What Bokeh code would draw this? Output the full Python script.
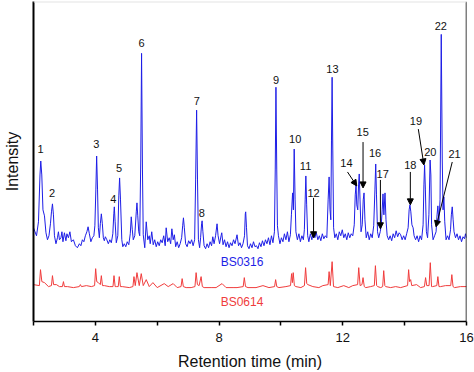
from bokeh.plotting import figure
from bokeh.models import Range1d, FixedTicker, Span, Arrow, NormalHead, ColumnDataSource
from bokeh.embed import file_html
from bokeh.resources import INLINE
from bokeh.core.properties import value

# ---- data -------------------------------------------------------------
blue_time = [
    2.000, 2.048, 2.097, 2.161, 2.210, 2.235, 2.268, 2.306, 2.355, 2.403, 2.452, 2.500,
    2.548, 2.581, 2.613, 2.645, 2.677, 2.726, 2.774, 2.806, 2.839, 2.887, 2.919, 2.952,
    3.000, 3.048, 3.081, 3.129, 3.177, 3.226, 3.290, 3.355, 3.419, 3.484, 3.532, 3.581,
    3.629, 3.677, 3.726, 3.765, 3.806, 3.855, 3.903, 3.952, 3.984, 4.016, 4.042, 4.071,
    4.097, 4.129, 4.161, 4.194, 4.226, 4.258, 4.290, 4.323, 4.371, 4.419, 4.468, 4.516,
    4.565, 4.597, 4.613, 4.639, 4.677, 4.726, 4.758, 4.784, 4.813, 4.855, 4.887, 4.935,
    4.984, 5.032, 5.081, 5.129, 5.161, 5.194, 5.226, 5.274, 5.323, 5.345, 5.371, 5.403,
    5.435, 5.468, 5.494, 5.523, 5.548, 5.597, 5.645, 5.694, 5.742, 5.774, 5.823, 5.871,
    5.919, 5.968, 6.016, 6.065, 6.113, 6.161, 6.210, 6.258, 6.290, 6.339, 6.387, 6.435,
    6.474, 6.516, 6.555, 6.597, 6.645, 6.694, 6.742, 6.790, 6.823, 6.848, 6.877, 6.919,
    6.968, 7.016, 7.065, 7.113, 7.161, 7.210, 7.242, 7.274, 7.303, 7.332, 7.371, 7.403,
    7.435, 7.452, 7.477, 7.516, 7.565, 7.613, 7.661, 7.710, 7.758, 7.797, 7.839, 7.887,
    7.935, 7.968, 8.016, 8.065, 8.087, 8.129, 8.177, 8.226, 8.274, 8.323, 8.371, 8.419,
    8.468, 8.516, 8.581, 8.629, 8.677, 8.726, 8.774, 8.823, 8.848, 8.861, 8.887, 8.919,
    8.968, 9.016, 9.065, 9.113, 9.161, 9.210, 9.258, 9.306, 9.355, 9.403, 9.452, 9.500,
    9.548, 9.597, 9.645, 9.694, 9.742, 9.790, 9.816, 9.839, 9.865, 9.887, 9.919, 9.968,
    10.016, 10.065, 10.113, 10.161, 10.210, 10.258, 10.306, 10.339, 10.377, 10.403, 10.429, 10.458,
    10.484, 10.532, 10.581, 10.629, 10.677, 10.726, 10.758, 10.784, 10.806, 10.832, 10.865, 10.903,
    10.952, 11.000, 11.048, 11.097, 11.145, 11.194, 11.242, 11.290, 11.339, 11.387, 11.435, 11.484,
    11.526, 11.558, 11.587, 11.613, 11.635, 11.655, 11.677, 11.703, 11.742, 11.790, 11.839, 11.887,
    11.935, 11.984, 12.032, 12.081, 12.129, 12.177, 12.226, 12.274, 12.323, 12.371, 12.403, 12.429,
    12.452, 12.484, 12.510, 12.532, 12.558, 12.590, 12.629, 12.661, 12.687, 12.716, 12.758, 12.806,
    12.855, 12.903, 12.952, 13.000, 13.039, 13.065, 13.090, 13.123, 13.161, 13.210, 13.242, 13.274,
    13.300, 13.329, 13.365, 13.397, 13.435, 13.484, 13.532, 13.581, 13.629, 13.677, 13.726, 13.774,
    13.823, 13.871, 13.919, 13.968, 14.016, 14.065, 14.113, 14.145, 14.171, 14.200, 14.235, 14.274,
    14.306, 14.355, 14.403, 14.452, 14.500, 14.548, 14.597, 14.623, 14.645, 14.671, 14.703, 14.742,
    14.784, 14.823, 14.848, 14.871, 14.919, 14.968, 15.016, 15.048, 15.074, 15.106, 15.145, 15.184,
    15.216, 15.242, 15.268, 15.297, 15.339, 15.387, 15.435, 15.484, 15.510, 15.539, 15.568, 15.597,
    15.645, 15.694, 15.742, 15.790, 15.839, 15.887, 15.935, 15.968, 16.000,
]
blue_intensity = [
    94, 90, 86, 100, 147, 161, 147, 112, 106, 89, 82, 86,
    98, 110, 118, 107, 86, 78, 84, 90, 82, 84, 90, 80,
    89, 81, 88, 84, 90, 80, 82, 76, 74, 78, 76, 82,
    80, 86, 90, 95, 88, 80, 84, 86, 96, 132, 166, 132,
    94, 84, 98, 108, 98, 84, 81, 85, 82, 78, 82, 79,
    88, 108, 115, 100, 79, 86, 126, 144, 122, 82, 75, 78,
    75, 80, 77, 88, 105, 92, 82, 86, 110, 119, 106, 90,
    86, 162, 269, 152, 87, 74, 100, 82, 86, 78, 90, 77,
    82, 75, 80, 76, 82, 79, 86, 76, 94, 80, 84, 78,
    93, 82, 87, 75, 80, 74, 78, 84, 96, 104, 94, 78,
    75, 81, 78, 82, 76, 82, 142, 212, 142, 82, 74, 84,
    98, 101, 90, 76, 73, 78, 74, 80, 76, 85, 78, 86,
    98, 86, 78, 86, 89, 77, 82, 75, 80, 74, 79, 76,
    82, 78, 87, 76, 79, 74, 78, 86, 108, 110, 94, 76,
    73, 78, 74, 80, 75, 76, 73, 79, 75, 81, 76, 82,
    78, 84, 77, 86, 79, 90, 152, 235, 152, 96, 86, 78,
    84, 80, 88, 82, 90, 80, 87, 107, 129, 112, 173, 122,
    90, 82, 88, 80, 86, 82, 92, 122, 146, 117, 86, 80,
    88, 82, 90, 84, 89, 82, 86, 81, 88, 83, 86, 84,
    122, 145, 112, 102, 182, 245, 172, 94, 84, 88, 82, 90,
    86, 92, 84, 88, 82, 89, 84, 88, 86, 97, 127, 137,
    117, 112, 137, 148, 122, 90, 97, 122, 129, 102, 84, 90,
    82, 88, 84, 96, 132, 158, 127, 90, 84, 90, 96, 112,
    128, 107, 129, 102, 86, 82, 86, 81, 88, 84, 91, 85,
    89, 87, 82, 86, 82, 88, 94, 112, 117, 110, 97, 94,
    86, 82, 86, 80, 86, 82, 97, 137, 157, 132, 90, 84,
    107, 162, 147, 97, 82, 86, 90, 107, 116, 100, 122, 288,
    162, 112, 125, 100, 82, 86, 82, 92, 107, 115, 102, 90,
    84, 88, 82, 86, 80, 85, 83, 88, 84,
]

red_time = [
    2.000, 2.190, 2.226, 2.270, 2.355, 2.484, 2.580, 2.613, 2.650, 2.742, 2.839, 2.935,
    2.968, 3.000, 3.097, 3.290, 3.480, 3.516, 3.550, 3.710, 3.871, 3.975, 4.010, 4.045,
    4.097, 4.160, 4.194, 4.230, 4.290, 4.452, 4.570, 4.603, 4.640, 4.677, 4.740, 4.774,
    4.810, 4.871, 5.097, 5.215, 5.248, 5.290, 5.345, 5.419, 5.484, 5.548, 5.645, 5.742,
    5.861, 6.000, 6.226, 6.355, 6.516, 6.645, 6.770, 6.806, 6.845, 6.935, 7.097, 7.220,
    7.258, 7.300, 7.355, 7.419, 7.460, 7.516, 7.742, 7.903, 8.097, 8.226, 8.452, 8.581,
    8.780, 8.816, 8.855, 8.935, 9.194, 9.419, 9.613, 9.795, 9.829, 9.865, 9.935, 10.161,
    10.310, 10.345, 10.371, 10.397, 10.435, 10.484, 10.645, 10.760, 10.797, 10.835, 10.871, 11.032,
    11.226, 11.355, 11.525, 11.558, 11.597, 11.655, 11.700, 11.839, 12.032, 12.194, 12.323, 12.480,
    12.516, 12.560, 12.620, 12.655, 12.695, 12.742, 12.903, 13.020, 13.055, 13.095, 13.129, 13.226,
    13.290, 13.323, 13.360, 13.387, 13.548, 13.710, 13.871, 14.095, 14.129, 14.160, 14.194, 14.230,
    14.387, 14.516, 14.640, 14.677, 14.715, 14.790, 14.829, 14.870, 14.903, 15.040, 15.074, 15.110,
    15.161, 15.323, 15.490, 15.526, 15.565, 15.613, 15.806, 16.000,
]
red_intensity = [
    37, 36, 52, 40, 39, 35, 36, 46, 37, 37, 35, 35,
    40, 35, 35, 34, 35, 37, 35, 36, 35, 36, 53, 40,
    39, 37, 46, 36, 36, 35, 35, 46, 35, 35, 35, 45,
    35, 35, 34, 35, 45, 36, 49, 36, 48, 36, 42, 35,
    39, 34, 38, 35, 38, 34, 35, 43, 35, 34, 34, 35,
    49, 37, 36, 45, 35, 34, 34, 34, 38, 34, 34, 34,
    35, 44, 35, 34, 34, 36, 34, 35, 42, 35, 34, 35,
    36, 48, 39, 49, 36, 35, 34, 36, 54, 38, 37, 35,
    34, 36, 37, 50, 36, 60, 35, 34, 36, 34, 36, 37,
    54, 36, 37, 44, 35, 34, 35, 36, 56, 36, 35, 34,
    35, 51, 36, 35, 34, 35, 34, 36, 52, 40, 42, 36,
    37, 34, 35, 44, 36, 36, 59, 35, 35, 36, 45, 35,
    35, 36, 36, 47, 35, 34, 35, 35,
]

peak_labels = [str(i) for i in range(1, 23)]
peak_label_time = [2.226, 2.603, 4.032, 4.581, 4.765, 5.494, 7.281, 7.442, 9.839, 10.461, 10.797,
                   11.055, 11.667, 12.119, 12.645, 13.043, 13.290, 14.184, 14.366, 14.829, 15.613, 15.171]
peak_label_intensity = [173, 129, 178, 123, 154, 279, 221, 109, 242, 183, 156,
                        129, 253, 159, 190, 169, 148, 157, 201, 170, 168, 296]

arrow_time_start = [11.055, 12.152, 12.655, 13.216, 14.184, 14.442, 15.539]
arrow_int_start = [124, 150, 180, 142, 150, 193, 160]
arrow_time_end = [11.055, 12.452, 12.655, 13.216, 14.184, 14.623, 15.016]
arrow_int_end = [84, 136, 134, 93, 117, 157, 95]

series_names = ["BS0316", "BS0614"]
series_label_time = [8.742, 8.742]
series_label_intensity = [60, 20]

x_ticks = [2, 4, 6, 8, 10, 12, 14, 16]
x_tick_labels = {2: "", 4: "4", 6: "", 8: "8", 10: "", 12: "12", 14: "", 16: "16"}

# ---- figure -----------------------------------------------------------
FONT = "Liberation Sans"
BLUE = "#1e1ee6"
RED = "#f03c3c"

p = figure(width=474, height=372, output_backend="svg", toolbar_location=None,
           x_range=Range1d(2, 16), y_range=Range1d(0, 321),
           min_border_left=32, min_border_right=8, min_border_top=1, min_border_bottom=50)
p.outline_line_color = None
p.xgrid.visible = False
p.ygrid.visible = False
p.background_fill_color = "white"
p.border_fill_color = "white"

p.line(blue_time, blue_intensity, line_color=BLUE, line_width=1)
p.line(red_time, red_intensity, line_color=RED, line_width=1)

p.text(x=peak_label_time, y=peak_label_intensity, text=peak_labels,
       text_font=value(FONT), text_font_size="11px", text_color="#111111",
       text_align="center", text_baseline="middle")

arrow_src = ColumnDataSource(dict(x0=arrow_time_start, y0=arrow_int_start,
                                  x1=arrow_time_end, y1=arrow_int_end))
p.add_layout(Arrow(end=NormalHead(size=6, fill_color="black", line_color="black", line_width=1),
                   x_start="x0", y_start="y0", x_end="x1", y_end="y1",
                   line_color="black", line_width=1, source=arrow_src))

p.text(x=series_label_time, y=series_label_intensity, text=series_names,
       text_font=value(FONT), text_font_size="12px", text_color=[BLUE, RED],
       text_align="center", text_baseline="middle")

# axes
xa = p.xaxis[0]
xa.ticker = FixedTicker(ticks=x_ticks)
xa.major_label_overrides = x_tick_labels
xa.minor_tick_line_color = None
xa.major_tick_out = 4
xa.major_tick_in = 0
xa.axis_line_width = 1.5
xa.major_tick_line_width = 1.5
xa.axis_line_color = "black"
xa.major_label_text_font = FONT
xa.major_label_text_font_size = "13px"
xa.major_label_text_color = "#111111"
xa.major_label_standoff = 7
xa.axis_label = "Retention time (min)"
xa.axis_label_text_font = FONT
xa.axis_label_text_font_size = "16px"
xa.axis_label_text_font_style = "normal"
xa.axis_label_text_color = "#111111"
xa.axis_label_standoff = 8

ya = p.yaxis[0]
ya.ticker = FixedTicker(ticks=[])
ya.minor_tick_line_color = None
ya.major_tick_line_color = None
ya.major_label_text_font_size = "0px"
ya.axis_line_width = 2
ya.axis_line_color = "black"
ya.axis_label = "Intensity"
ya.axis_label_text_font = FONT
ya.axis_label_text_font_size = "16px"
ya.axis_label_text_font_style = "normal"
ya.axis_label_text_color = "#111111"
ya.axis_label_standoff = 13

p.add_layout(Span(location=16, dimension="height", line_color="black", line_width=1.5))
p.add_layout(Span(location=321, dimension="width", line_color="#e4e4e4", line_width=2))

open("out.html", "w").write(file_html(p, INLINE))
